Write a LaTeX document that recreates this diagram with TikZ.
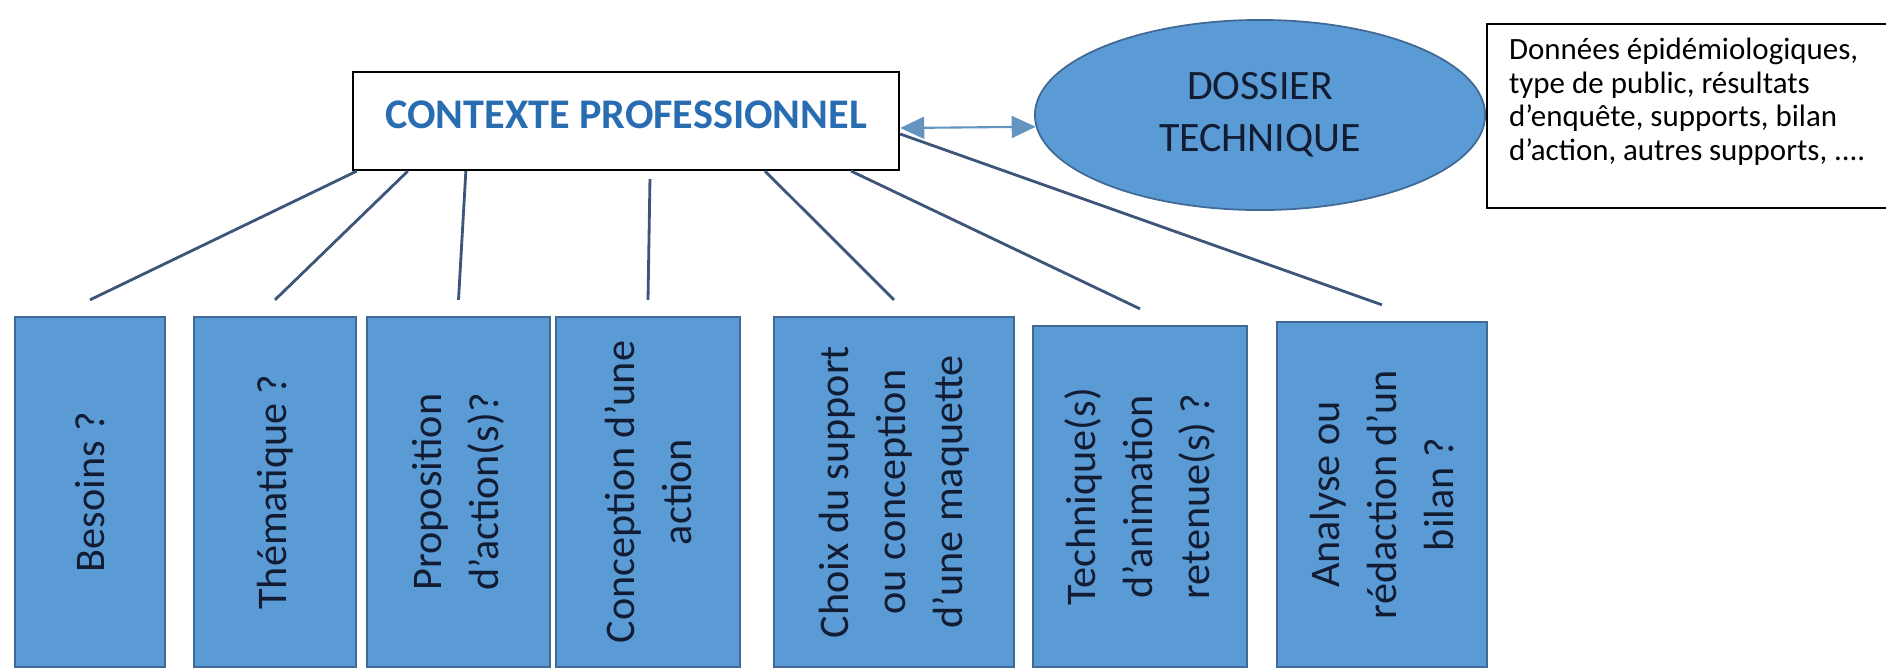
\documentclass[tikz,border=0pt]{standalone}
\usepackage{fontspec}
\setmainfont{Carlito}
\usetikzlibrary{arrows.meta,shapes.geometric}

\definecolor{boxblue}{RGB}{91,155,213}
\definecolor{boxedge}{RGB}{65,105,150}
\definecolor{linkblue}{RGB}{60,85,120}
\definecolor{titleblue}{RGB}{40,108,178}
\definecolor{inkblue}{RGB}{18,28,50}

\begin{document}
\begin{tikzpicture}[x=0.01cm,y=-0.01cm,
	>={Triangle[length=0.24cm,width=0.22cm]},
	ctx node/.style={draw,line width=0.6pt,minimum width=5.46cm,minimum height=0.98cm,text depth=0.12cm,text=titleblue,font=\fontsize{12}{14}\selectfont\bfseries},
	file node/.style={ellipse,draw=boxedge,line width=0.5pt,fill=boxblue,inner sep=0pt,minimum width=4.5cm,minimum height=1.9cm,align=center,text=inkblue,font=\fontsize{11.9}{14.8}\selectfont},
	note node/.style={draw,line width=0.6pt,inner xsep=0.22cm,inner ysep=0.14cm,font=\fontsize{8.8}{9.6}\selectfont},
	ask node/.style={draw=boxedge,line width=0.6pt,fill=boxblue,rotate=90,inner sep=0pt,align=center,text=inkblue,font=\fontsize{12}{16.2}\selectfont},
	link/.style={draw=linkblue,line width=0.8pt}]
	\useasboundingbox (0,0) rectangle (1886,669);
	
	\node[ctx node] (ctx) at (626,121) {CONTEXTE PROFESSIONNEL};
	\node[file node] (dos) at (1260,115) {DOSSIER\\TECHNIQUE};
	\node[note node,anchor=west] (info) at ([yshift=-0.01cm]dos.east) {\parbox[c][1.56cm][t]{3.56cm}{\raggedright Données épidémiologiques,\\ type de public, résultats\\ d’enquête, supports, bilan\\ d’action, autres supports, ....}};
	
	\node[ask node,minimum width=3.5cm,minimum height=1.5cm] (b1) at (90,492) {Besoins ?};
	\node[ask node,minimum width=3.5cm,minimum height=1.62cm] (b2) at (275,492) {Thématique ?};
	\node[ask node,minimum width=3.5cm,minimum height=1.83cm] (b3) at (458.5,492) {Proposition\\ d’action(s)?};
	\node[ask node,minimum width=3.5cm,minimum height=1.84cm] (b4) at (648,492) {Conception d’une\\ action};
	\node[ask node,minimum width=3.5cm,minimum height=2.4cm] (b5) at (894,492) {Choix du support\\ ou conception\\ d’une maquette};
	\node[ask node,minimum width=3.41cm,minimum height=2.14cm] (b6) at (1140,496.5) {Technique(s)\\ d’animation\\ retenue(s) ?};
	\node[ask node,minimum width=3.45cm,minimum height=2.1cm] (b7) at (1382,494.5) {Analyse ou\\ rédaction d’un\\ bilan ?};
	
	\coordinate (t1) at ([yshift=0.16cm]b1.east);
	\coordinate (t2) at ([yshift=0.16cm]b2.east);
	\coordinate (t3) at ([yshift=0.16cm]b3.east);
	\coordinate (t4) at ([yshift=0.16cm]b4.east);
	\coordinate (t5) at ([yshift=0.16cm]b5.east);
	\coordinate (t6) at ([yshift=0.16cm]b6.east);
	\coordinate (t7) at ([yshift=0.16cm]b7.east);
	
	\path[link]
	([xshift=0.05cm]ctx.south west) edge (t1)
	([xshift=0.56cm]ctx.south west) edge (t2)
	([xshift=1.14cm]ctx.south west) edge (t3)
	([xshift=2.98cm,yshift=-0.08cm]ctx.south west) edge (t4)
	([xshift=4.13cm]ctx.south west) edge (t5)
	([xshift=4.99cm]ctx.south west) edge (t6)
	([yshift=-0.13cm]ctx.east) edge (t7);
	\draw[<->,draw=boxblue!75!gray,fill=boxblue,line width=0.6pt] ([yshift=-0.07cm]ctx.east) -- (dos.183);
\end{tikzpicture}
\end{document}
